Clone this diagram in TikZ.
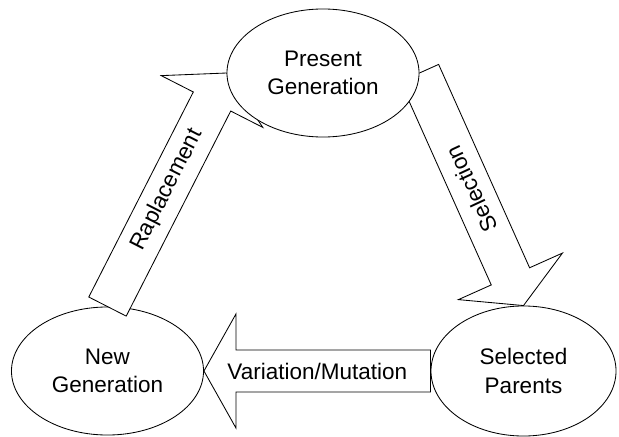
\documentclass[tikz,border=0pt]{standalone}
\usepackage{fontspec}
\setmainfont{Liberation Sans}
\usetikzlibrary{shapes.geometric}
\usetikzlibrary{calc}
\usetikzlibrary{backgrounds}

% fat arrow from #1 (tail) to #2 (tip), #3 names its head
\newcommand{\blockarrow}[3]{%
  \coordinate (#3m) at ($(#2)!0.8cm!(#1)$);
  \draw[blockbody] (#2)
    -- ($(#3m)!1.425cm!90:(#2)$) -- ($(#3m)!0.525cm!90:(#2)$)
    -- ($(#1)!0.525cm!90:(#2)$) -- ($(#1)!0.525cm!-90:(#2)$)
    -- ($(#3m)!0.525cm!-90:(#2)$) -- ($(#3m)!1.425cm!-90:(#2)$) -- cycle;
}

\begin{document}
\begin{tikzpicture}[x=0.025cm, y=0.025cm,
    every node/.style={font=\fontsize{16}{20}\selectfont},
    gen/.style={draw, ellipse, fill=white, line width=0.6pt, inner sep=0pt,
      minimum width=4.8cm, minimum height=3.2cm, align=center},
    blockbody/.style={draw, fill=white, line width=0.6pt, line join=miter}]
  \useasboundingbox (0,0) rectangle (619,436);
  \node[gen] (pg) at (323,363) {Present\\Generation};
  \begin{pgfonlayer}{background}
    \node[gen] (ng) at (107.5,65) {New\\Generation};
    \node[gen, minimum width=4.625cm, minimum height=3.25cm] (sp) at (523.5,65) {Selected\\Parents};
    \blockarrow{ng.north}{pg.west}{rep}
    \blockarrow{pg.east}{sp.north}{sel}
    \blockarrow{sp.west}{ng.east}{var}
  \end{pgfonlayer}
  \node[rotate=63] (replabel) at ($(ng.north)!0.5!(pg.west)$) {Raplacement};
  \node[rotate=115] (sellabel) at ($(pg.east)!0.5!(sp.north)$) {Selection};
  \node (varlabel) at ($(sp.west)!0.5!(ng.east)$) {Variation/Mutation};
\end{tikzpicture}
\end{document}
